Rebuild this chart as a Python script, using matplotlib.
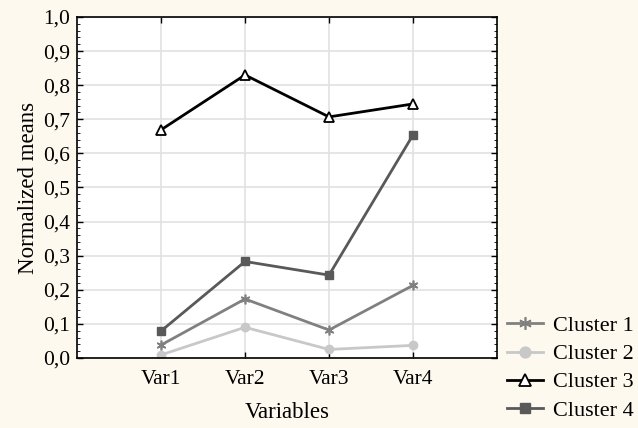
import matplotlib
matplotlib.use("Agg")
import matplotlib.pyplot as plt
from matplotlib.ticker import MultipleLocator, FuncFormatter

plt.rcParams['font.family'] = ['Liberation Serif', 'DejaVu Serif']

variables = ['Var1', 'Var2', 'Var3', 'Var4']
cluster1 = [0.038, 0.173, 0.082, 0.213]
cluster2 = [0.009, 0.090, 0.025, 0.037]
cluster3 = [0.669, 0.830, 0.707, 0.745]
cluster4 = [0.079, 0.283, 0.243, 0.654]

bg = '#FDF9EE'
fig = plt.figure(figsize=(6.38, 4.28), dpi=100, facecolor=bg)
ax = fig.add_axes([0.1207, 0.1636, 0.6583, 0.7967])

x = [1, 2, 3, 4]
ax.plot(x, cluster1, color='#808080', lw=2, marker=(6, 2, 0), ms=7, mew=1.2, label='Cluster 1')
ax.plot(x, cluster2, color='#C8C8C8', lw=2, marker='o', ms=6, label='Cluster 2')
ax.plot(x, cluster3, color='black', lw=2, marker='^', ms=6.5, mfc='white', mec='black', mew=1.3,
        label='Cluster 3')
ax.plot(x, cluster4, color='#595959', lw=2, marker='s', ms=5.5, label='Cluster 4')

ax.set_xlim(0, 5)
ax.set_ylim(0, 1)
ax.set_xticks(x)
ax.set_xticklabels(variables)
ax.yaxis.set_major_locator(MultipleLocator(0.1))
ax.yaxis.set_minor_locator(MultipleLocator(0.02))
ax.yaxis.set_major_formatter(FuncFormatter(lambda v, p: f'{v:.1f}'.replace('.', ',')))
ax.tick_params(direction='in', top=True, right=True, labelsize=15.5, length=4, width=1)
ax.tick_params(axis='x', pad=9)
ax.tick_params(axis='y', pad=5)
ax.tick_params(which='minor', direction='in', left=True, right=True, length=2)
ax.grid(True, color='#E2E2E2', lw=1.2)
ax.set_axisbelow(True)
for s in ax.spines.values():
    s.set_linewidth(1.2)

ax.set_xlabel('Variables', fontsize=16.5, labelpad=9)
ax.set_ylabel('Normalized means', fontsize=16.5, labelpad=3)

ax.legend(loc='center left', bbox_to_anchor=(0.795, 0.14), bbox_transform=fig.transFigure,
          frameon=False, fontsize=16, handlelength=1.6, labelspacing=0.34, handletextpad=0.45,
          borderpad=0, borderaxespad=0, markerscale=1.3)

fig.savefig('out.png', dpi=100, facecolor=bg)
